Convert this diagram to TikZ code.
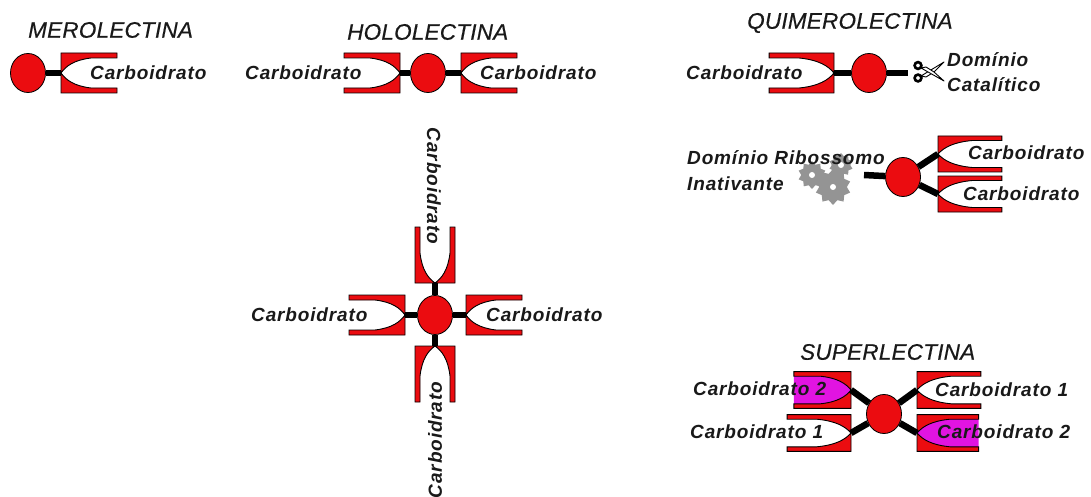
\documentclass[tikz,border=0pt]{standalone}
\usepackage{fontspec}
\usetikzlibrary{shapes.geometric}
\setmainfont{Liberation Sans}
\newfontfamily\labfont[LetterSpace=4.5]{Liberation Sans}
\newfontfamily\titfont[LetterSpace=1,FakeBold=0.4]{Liberation Sans}
\definecolor{lecred}{RGB}{235,12,16}
\definecolor{pocketm}{RGB}{225,20,225}
\newcommand{\forkshape}[1]{%
  \fill[#1] (0,0) .. controls (5,-7) and (13,-13) .. (30,-15) -- (56,-15) -- (56,15) -- (30,15) .. controls (13,13) and (5,7) .. (0,0) -- cycle;
  \draw[fill=lecred,draw=black,line width=.9pt,line join=miter]
    (0,0) -- (0,-20) -- (56,-20) -- (56,-15) -- (30,-15) .. controls (13,-13) and (5,-7) .. (0,0)
    .. controls (5,7) and (13,13) .. (30,15) -- (56,15) -- (56,20) -- (0,20) -- cycle;}
\tikzset{
  fork/.pic={\forkshape{white}},
  forkm/.pic={\forkshape{pocketm}},
  head/.style={ellipse,draw=black,line width=.8pt,fill=lecred,minimum width=35pt,minimum height=39pt,inner sep=0pt},
  stem/.style={line width=6.5pt,black},
  lab/.style={inner sep=0pt,anchor=west,font=\labfont\bfseries\itshape\fontsize{19}{21}\selectfont,text=black!90},
  vlab/.style={inner sep=0pt,font=\labfont\bfseries\itshape\fontsize{19}{21}\selectfont,text=black!90},
  tit/.style={inner sep=0pt,anchor=west,font=\titfont\itshape\fontsize{22.5}{25}\selectfont,text=black!90},
  gear/.style={star,star points=10,star point ratio=1.3,fill=black!42,inner sep=0pt},
  gearhole/.style={circle,fill=white,inner sep=0pt,minimum size=6pt},
  blade/.style={fill=white,draw=black,line width=.9pt,line join=round},
  grip/.style={black,line width=2.6pt}
}
\begin{document}
\begin{tikzpicture}[x=1pt,y=-1pt]
\useasboundingbox[fill=white] (0,0) rectangle (1091,497);
% Merolectina
\node[head] (m) at (28,73) {};
\coordinate (mf) at (61,73);
\pic at (mf) {fork};
\draw[stem] (m) -- (mf);
\node[tit] (tm) at (28,30) {MEROLECTINA};
\node[lab] (lm) at (90,73) {Carboidrato};
% Hololectina
\node[head] (h) at (428,73) {};
\coordinate (hl) at (400,73);
\coordinate (hr) at (461,73);
\pic[xscale=-1] at (hl) {fork};
\pic at (hr) {fork};
\draw[stem] (h) -- (hl);
\draw[stem] (h) -- (hr);
\node[tit] (th) at (347,32) {HOLOLECTINA};
\node[lab] (lhl) at (245,73) {Carboidrato};
\node[lab] (lhr) at (480,73) {Carboidrato};
% Cross
\node[head] (c) at (435,315) {};
\coordinate (cl) at (405,315);
\coordinate (cr) at (466,315);
\coordinate (ct) at (435,283);
\coordinate (cb) at (435,346);
\pic[xscale=-1] at (cl) {fork};
\pic at (cr) {fork};
\pic[rotate=90] at (ct) {fork};
\pic[rotate=-90] at (cb) {fork};
\draw[stem] (c) -- (cl);
\draw[stem] (c) -- (cr);
\draw[stem] (c) -- (ct);
\draw[stem] (c) -- (cb);
\node[lab] (lcl) at (251,315) {Carboidrato};
\node[lab] (lcr) at (486,315) {Carboidrato};
\node[vlab,rotate=-90] (lct) at (434,186) {Carboidrato};
\node[vlab,rotate=90] (lcb) at (435,440) {Carboidrato};
% Quimerolectina
\node[tit] (tq) at (747,23) {QUIMEROLECTINA};
\node[head] (q) at (869,73) {};
\coordinate (ql) at (834,73);
\coordinate (qr) at (908,73);
\pic[xscale=-1.16] at (ql) {fork};
\draw[stem] (q) -- (ql);
\draw[stem] (q) -- (qr);
\node[lab] (lq) at (686,73) {Carboidrato};
% scissors
\draw[blade] (921,76) -- (944,62) -- (934,72) -- (926,77) -- cycle;
\draw[blade] (921,68) -- (944,81) -- (934,72) -- (926,67) -- cycle;
\draw[grip] (918,65.5) circle (3.4pt);
\draw[grip] (918,78) circle (3.4pt);
\node[lab] (ld) at (947,60) {Domínio};
\node[lab] (lc) at (947,85) {Catalítico};
% Ribosome-inactivating
\node[gear,minimum size=28pt] (g1) at (812,175) {};
\node[gear,minimum size=24pt] (g3) at (841,165) {};
\node[gear,minimum size=36pt] (g2) at (833,187) {};
\node[gearhole] (h1) at (812,175) {};
\node[gearhole] (h3) at (841,165) {};
\node[gearhole] (h2) at (833,187) {};
\node[head] (r) at (903,177) {};
\coordinate (rl) at (864,175);
\coordinate (rt) at (938,154);
\coordinate (rb) at (938,194);
\pic[xscale=1.14,yscale=.9] at (rt) {fork};
\pic[xscale=1.14,yscale=.9] at (rb) {fork};
\draw[stem] (r) -- (rl);
\draw[stem] (r) -- (rt);
\draw[stem] (r) -- (rb);
\node[lab] (lr1) at (687,158) {Domínio Ribossomo};
\node[lab] (lr2) at (687,184) {Inativante};
\node[lab] (lrt) at (968,153) {Carboidrato};
\node[lab] (lrb) at (963,194) {Carboidrato};
% Superlectina
\node[tit] (ts) at (800,352) {SUPERLECTINA};
\node[head] (s) at (884,414) {};
\coordinate (stl) at (851,390);
\coordinate (sbl) at (851,433);
\coordinate (str) at (917,390);
\coordinate (sbr) at (917,433);
\pic[xscale=-1.02,yscale=.92] at (stl) {forkm};
\pic[xscale=-1.14,yscale=.92] at (sbl) {fork};
\pic[xscale=1.14,yscale=.92] at (str) {fork};
\pic[xscale=1.10,yscale=.92] at (sbr) {forkm};
\draw[stem] (s) -- (stl);
\draw[stem] (s) -- (sbl);
\draw[stem] (s) -- (str);
\draw[stem] (s) -- (sbr);
\node[lab] (ls1) at (693,389) {Carboidrato 2};
\node[lab] (ls2) at (690,432) {Carboidrato 1};
\node[lab] (ls3) at (935,390) {Carboidrato 1};
\node[lab] (ls4) at (937,432) {Carboidrato 2};
\end{tikzpicture}
\end{document}
